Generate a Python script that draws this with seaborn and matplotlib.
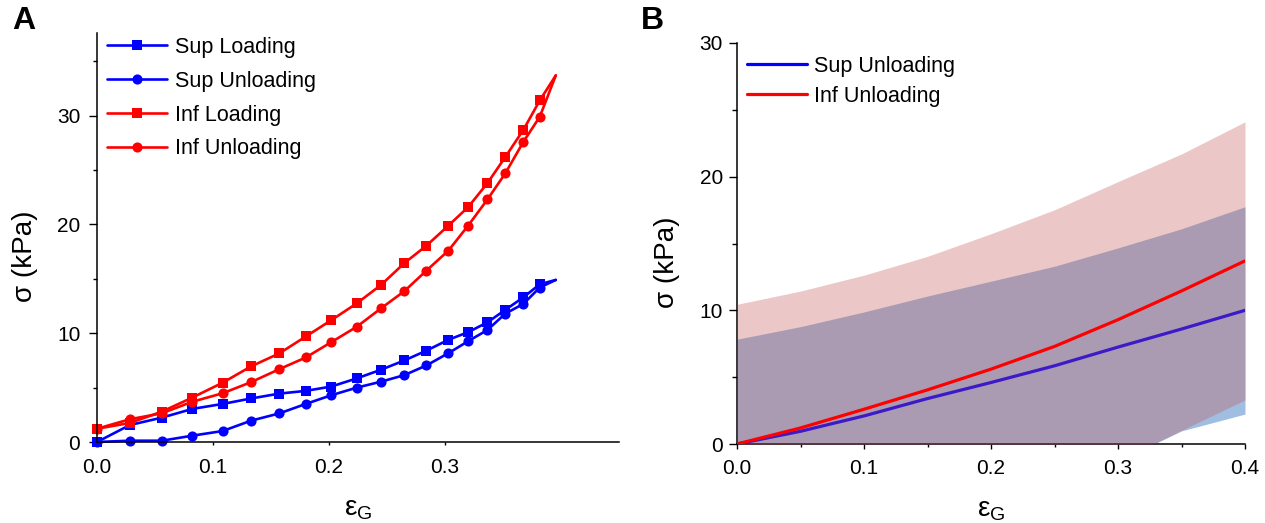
import numpy as np
import pandas as pd
import seaborn as sns
import matplotlib
matplotlib.use("Agg")
import matplotlib.pyplot as plt
from matplotlib.ticker import MultipleLocator

# ---------------- Panel A data ----------------
strain_a = [0.0, 0.0283, 0.0559, 0.0821, 0.1083, 0.1328, 0.1572, 0.180, 0.202, 0.224,
            0.245, 0.265, 0.284, 0.303, 0.320, 0.3366, 0.352, 0.3676, 0.3817, 0.3955]
sup_loading = [0.0, 1.56, 2.24, 3.04, 3.5, 4.0, 4.45, 4.7, 5.1, 5.85,
               6.65, 7.5, 8.4, 9.4, 10.1, 11.0, 12.15, 13.3, 14.5, 14.9]
sup_unloading = [0.0, 0.12, 0.12, 0.58, 1.01, 1.96, 2.63, 3.5, 4.3, 5.0,
                 5.55, 6.15, 7.04, 8.17, 9.27, 10.3, 11.8, 12.7, 14.2, 14.9]
inf_loading = [1.22, 1.75, 2.79, 4.08, 5.45, 6.95, 8.15, 9.7, 11.2, 12.75,
               14.45, 16.45, 18.05, 19.9, 21.6, 23.8, 26.2, 28.7, 31.4, 33.7]
inf_unloading = [1.22, 2.09, 2.64, 3.7, 4.48, 5.5, 6.7, 7.77, 9.18, 10.6,
                 12.3, 13.87, 15.76, 17.6, 19.9, 22.3, 24.7, 27.6, 29.9, 33.7]

# ---------------- Panel B data ----------------
strain_b = [0.0, 0.05, 0.10, 0.15, 0.20, 0.25, 0.30, 0.35, 0.40]
sup_unl_mean = [0.0, 0.95, 2.1, 3.4, 4.6, 5.85, 7.25, 8.6, 10.0]
sup_unl_upper = [7.84, 8.78, 9.88, 11.07, 12.18, 13.3, 14.67, 16.1, 17.75]
sup_unl_lower = [-7.84, -6.88, -5.68, -4.27, -2.98, -1.8, -1.3, 0.98, 2.24]
inf_unl_mean = [0.0, 1.2, 2.6, 4.05, 5.6, 7.3, 9.3, 11.45, 13.7]
inf_unl_upper = [10.45, 11.44, 12.63, 14.04, 15.73, 17.52, 19.63, 21.7, 24.1]
inf_unl_lower = [-10.45, -9.04, -7.43, -5.94, -4.53, -2.92, -1.3, 1.02, 3.3]

sns.set_theme(style="ticks")
plt.rcParams["font.family"] = ["Liberation Sans", "DejaVu Sans"]
plt.rcParams["mathtext.fontset"] = "custom"
plt.rcParams["mathtext.rm"] = "Liberation Sans"
plt.rcParams["mathtext.it"] = "Liberation Sans:italic"
plt.rcParams["axes.linewidth"] = 1.1
for k in ["text.color", "axes.labelcolor", "xtick.color", "ytick.color", "axes.edgecolor"]:
    plt.rcParams[k] = "black"

W, H = 1265, 523
fig = plt.figure(figsize=(W / 100, H / 100), dpi=100)

BLUE = "#0000FF"
RED = "#FF0000"
TICK_FS = 15
LEG_FS = 15.5
LAB_FS = 20

# ---------------- Panel A ----------------
axA = fig.add_axes([97 / W, 1 - 442 / H, (619 - 97) / W, (442 - 33) / H])
dfA = pd.DataFrame({"strain": strain_a, "sup_l": sup_loading, "sup_u": sup_unloading,
                    "inf_l": inf_loading, "inf_u": inf_unloading})
n = len(strain_a)
mk = list(range(n - 1))
series = [("sup_l", "Sup Loading", BLUE, "s"),
          ("sup_u", "Sup Unloading", BLUE, "o"),
          ("inf_l", "Inf Loading", RED, "s"),
          ("inf_u", "Inf Unloading", RED, "o")]
for col, lab, colr, m in series:
    sns.lineplot(data=dfA, x="strain", y=col, ax=axA, color=colr, marker=m,
                 markersize=7.3 if m == "o" else 6.6, markeredgewidth=0, linewidth=1.9,
                 label=lab, sort=False, estimator=None, markevery=mk, clip_on=False)

axA.set_xlim(0, 0.45)
axA.set_ylim(0, 37.6)
axA.set_xticks([0.0, 0.1, 0.2, 0.3])
axA.set_xticklabels(["0.0", "0.1", "0.2", "0.3"])
axA.set_yticks([0, 10, 20, 30])
axA.yaxis.set_minor_locator(MultipleLocator(5))
axA.tick_params(axis="x", which="major", length=2.5, width=1, labelsize=TICK_FS, pad=9)
axA.tick_params(axis="y", which="major", length=6, width=1, labelsize=TICK_FS, pad=6)
axA.tick_params(axis="y", which="minor", length=3, width=1)
sns.despine(ax=axA)
axA.set_xlabel(r"ε$_{\mathrm{G}}$", fontsize=LAB_FS, labelpad=14)
axA.set_ylabel("σ (kPa)", fontsize=LAB_FS)
axA.yaxis.set_label_coords(-0.113, 0.455)
axA.legend(loc="upper left", bbox_to_anchor=(0.003, 1.012), frameon=False, fontsize=LEG_FS,
           handlelength=2.8, handletextpad=0.37, labelspacing=0.6, borderaxespad=0)

# ---------------- Panel B ----------------
axB = fig.add_axes([737 / W, 1 - 444 / H, (1245 - 737) / W, (444 - 43) / H])
sb = np.array(strain_b)

axB.fill_between(sb, sup_unl_lower, sup_unl_upper, color=(18 / 255, 93 / 255, 180 / 255),
                 alpha=0.4, linewidth=0, zorder=1)
dfB = pd.DataFrame({"strain": strain_b, "sup": sup_unl_mean, "inf": inf_unl_mean})
sns.lineplot(data=dfB, x="strain", y="sup", ax=axB, color=BLUE, linewidth=2.3,
             label="Sup Unloading", estimator=None, zorder=2)
axB.fill_between(sb, inf_unl_lower, inf_unl_upper, color=(193 / 255, 83 / 255, 83 / 255),
                 alpha=0.32, linewidth=0, zorder=3)
sns.lineplot(data=dfB, x="strain", y="inf", ax=axB, color=RED, linewidth=2.3,
             label="Inf Unloading", estimator=None, zorder=4)

axB.set_xlim(0, 0.4)
axB.set_ylim(0, 30)
axB.set_xticks([0.0, 0.1, 0.2, 0.3, 0.4])
axB.set_xticklabels(["0.0", "0.1", "0.2", "0.3", "0.4"])
axB.set_yticks([0, 10, 20, 30])
axB.xaxis.set_minor_locator(MultipleLocator(0.05))
axB.yaxis.set_minor_locator(MultipleLocator(5))
axB.tick_params(axis="x", which="major", length=3.6, width=1, labelsize=TICK_FS, pad=7)
axB.tick_params(axis="x", which="minor", length=2.4, width=1)
axB.tick_params(axis="y", which="major", length=6, width=1, labelsize=TICK_FS, pad=4)
axB.tick_params(axis="y", which="minor", length=3.3, width=1)
sns.despine(ax=axB)
axB.set_xlabel(r"ε$_{\mathrm{G}}$", fontsize=LAB_FS, labelpad=14)
axB.set_ylabel("σ (kPa)", fontsize=LAB_FS)
axB.yaxis.set_label_coords(-0.112, 0.454)
legB = axB.legend(loc="upper left", bbox_to_anchor=(0.003, 0.99), frameon=False, fontsize=LEG_FS,
                  handlelength=2.8, handletextpad=0.3, labelspacing=0.42, borderaxespad=0)
legB.set_zorder(10)

fig.text(12 / W, 1 - 21 / H, "A", fontsize=23, fontweight="bold", va="center", ha="left")
fig.text(641 / W, 1 - 21 / H, "B", fontsize=23, fontweight="bold", va="center", ha="left")

fig.savefig("out.png", dpi=100)
